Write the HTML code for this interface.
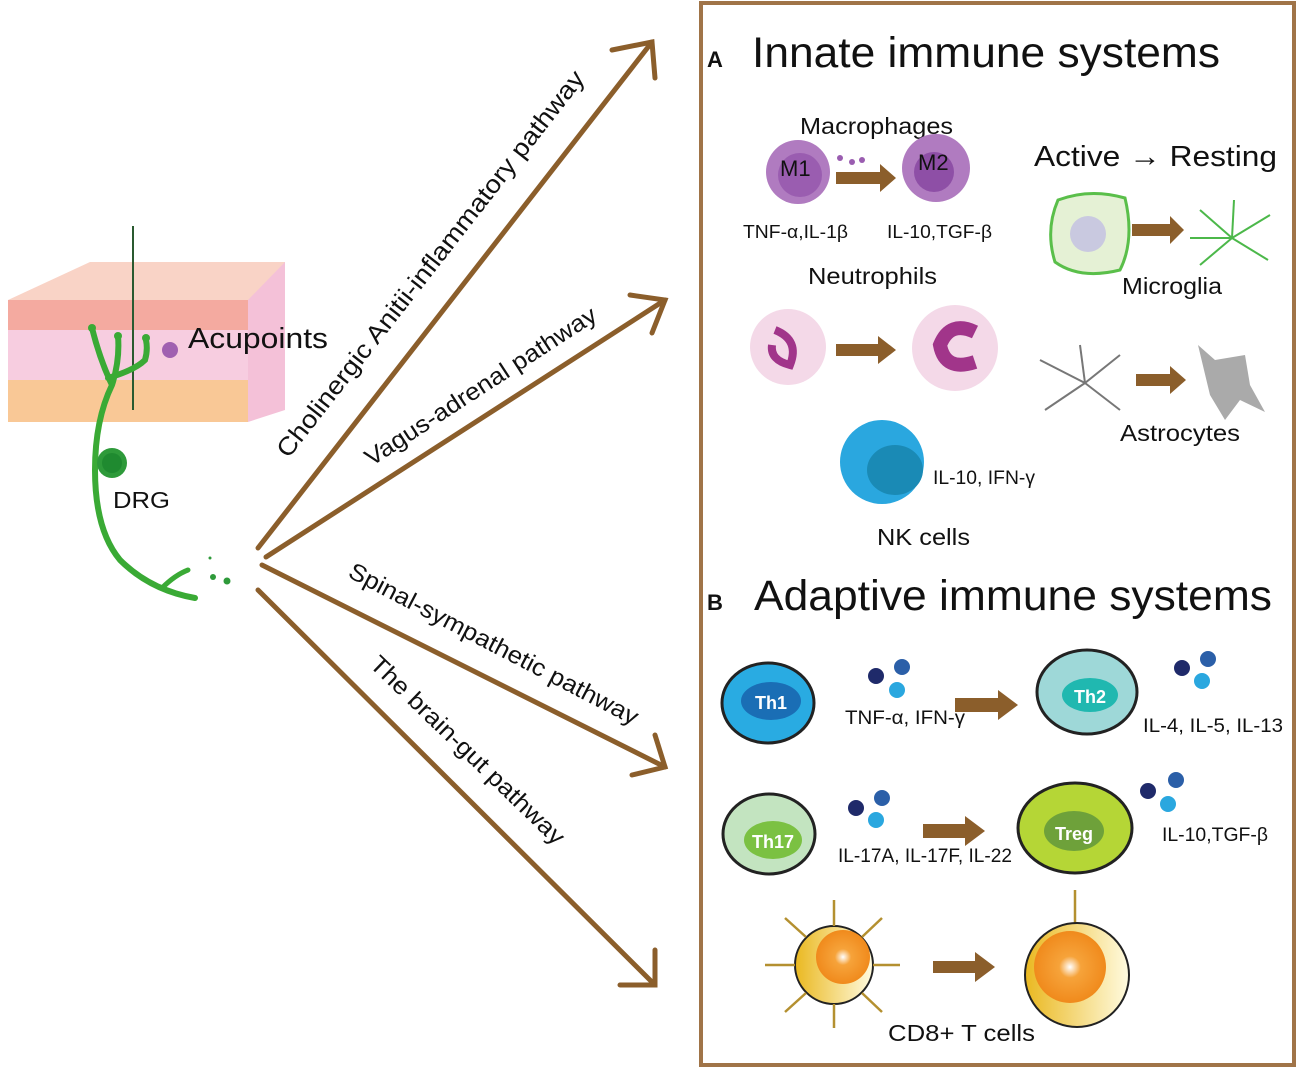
<!DOCTYPE html>
<html><head><meta charset="utf-8"><style>body{margin:0;background:#fff}svg{display:block}text{font-family:"Liberation Sans",sans-serif;fill:#111}</style></head><body>
<svg width="1299" height="1070" viewBox="0 0 1299 1070" xmlns="http://www.w3.org/2000/svg">
<defs>
<radialGradient id="og" cx="0.5" cy="0.5" r="0.5"><stop offset="0" stop-color="#fff"/><stop offset="0.3" stop-color="#f6a33a"/><stop offset="1" stop-color="#f08a1c"/></radialGradient>
<linearGradient id="yg" x1="0" x2="1"><stop offset="0" stop-color="#eab820"/><stop offset="1" stop-color="#fffbe0"/></linearGradient>
</defs>
<!-- skin block -->
<polygon points="8,300 90,262 285,262 285,300" fill="#f9d3c6"/>
<polygon points="248,300 285,262 285,410 248,422" fill="#f4c1d8"/>
<rect x="8" y="300" width="240" height="122" fill="#f7cde0"/>
<rect x="8" y="300" width="240" height="30" fill="#f4aaa0"/>
<rect x="8" y="380" width="240" height="42" fill="#f9c896"/>
<line x1="133" y1="226" x2="133" y2="410" stroke="#2a5a30" stroke-width="2"/>
<path d="M195,598 Q150,590 120,560 Q95,530 95,470 Q95,420 112,385 Q120,360 118,336 M112,385 Q100,360 92,328 M108,378 Q135,370 145,360 Q148,350 146,340" fill="none" stroke="#3aaa35" stroke-width="6" stroke-linecap="round"/>
<path d="M162,588 Q175,575 188,570" fill="none" stroke="#3aaa35" stroke-width="5" stroke-linecap="round"/>
<circle cx="92" cy="328" r="4" fill="#3aaa35"/><circle cx="118" cy="336" r="4" fill="#3aaa35"/><circle cx="146" cy="338" r="4" fill="#3aaa35"/>
<circle cx="112" cy="463" r="15" fill="#2e9a3a"/><circle cx="112" cy="463" r="10" fill="#1f8a30"/>
<circle cx="170" cy="350" r="8" fill="#a060b0"/>
<circle cx="213" cy="577" r="3" fill="#2e9a3a"/><circle cx="227" cy="581" r="3.5" fill="#2e9a3a"/><circle cx="210" cy="558" r="1.5" fill="#2e9a3a"/>
<text x="188" y="348" font-size="29" textLength="140" lengthAdjust="spacingAndGlyphs">Acupoints</text>
<text x="113" y="508" font-size="23" textLength="57" lengthAdjust="spacingAndGlyphs">DRG</text>
<!-- arrows -->
<g stroke="#8b5e2b" stroke-width="5" fill="none" stroke-linecap="round">
<line x1="258" y1="548" x2="652" y2="42"/><polyline points="612,50 652,42 655,78"/>
<line x1="266" y1="557" x2="665" y2="300"/><polyline points="630,295 665,300 652,333"/>
<line x1="262" y1="565" x2="665" y2="767"/><polyline points="655,735 665,767 632,775"/>
<line x1="258" y1="590" x2="655" y2="985"/><polyline points="655,950 655,985 620,985"/>
</g>
<text font-size="25" transform="translate(437,269) rotate(-52)" text-anchor="middle" textLength="483" lengthAdjust="spacingAndGlyphs">Cholinergic Anitii-inflammatory pathway</text>
<text font-size="24" transform="translate(485,393) rotate(-33)" text-anchor="middle" textLength="271" lengthAdjust="spacingAndGlyphs">Vagus-adrenal pathway</text>
<text font-size="24" transform="translate(490,651) rotate(27.5)" text-anchor="middle" textLength="323" lengthAdjust="spacingAndGlyphs">Spinal-sympathetic pathway</text>
<text font-size="24" transform="translate(462,756) rotate(44)" text-anchor="middle" textLength="260" lengthAdjust="spacingAndGlyphs">The brain-gut pathway</text>
<!-- box -->
<rect x="701" y="3" width="593" height="1062" fill="none" stroke="#a07448" stroke-width="4"/>
<text x="707" y="67" font-size="22" font-weight="bold">A</text>
<text x="752" y="67" font-size="43" textLength="468" lengthAdjust="spacingAndGlyphs">Innate immune systems</text>
<text x="707" y="610" font-size="22" font-weight="bold">B</text>
<text x="754" y="610" font-size="43" textLength="518" lengthAdjust="spacingAndGlyphs">Adaptive immune systems</text>
<!-- macrophages -->
<text x="800" y="134" font-size="23" textLength="153" lengthAdjust="spacingAndGlyphs">Macrophages</text>
<circle cx="798" cy="172" r="32" fill="#b07bc0"/><circle cx="800" cy="175" r="22" fill="#9a5db0"/>
<circle cx="936" cy="168" r="34" fill="#b07bc0"/><circle cx="934" cy="172" r="20" fill="#8e4fa6"/>
<text x="780" y="176" font-size="22">M1</text><text x="918" y="170" font-size="22">M2</text>
<circle cx="840" cy="158" r="3" fill="#9a5db0"/><circle cx="852" cy="162" r="3" fill="#9a5db0"/><circle cx="862" cy="160" r="3" fill="#9a5db0"/>
<polygon points="836,172 880,172 880,164 896,178 880,192 880,184 836,184" fill="#8b5e2b"/>
<text x="743" y="238" font-size="18" textLength="105" lengthAdjust="spacingAndGlyphs">TNF-α,IL-1β</text>
<text x="887" y="238" font-size="18" textLength="105" lengthAdjust="spacingAndGlyphs">IL-10,TGF-β</text>
<text x="1034" y="166" font-size="29" textLength="243" lengthAdjust="spacingAndGlyphs">Active → Resting</text>
<path d="M1058,200 Q1090,188 1125,198 Q1135,240 1120,270 Q1080,280 1055,262 Q1045,230 1058,200Z" fill="#e5f1d5" stroke="#5abf4a" stroke-width="3"/>
<circle cx="1088" cy="234" r="18" fill="#c9c9e0"/>
<polygon points="1132,224 1170,224 1170,216 1184,230 1170,244 1170,236 1132,236" fill="#8b5e2b"/>
<g stroke="#4cb84a" stroke-width="2"><line x1="1232" y1="238" x2="1200" y2="210"/><line x1="1232" y1="238" x2="1270" y2="215"/><line x1="1232" y1="238" x2="1200" y2="265"/><line x1="1232" y1="238" x2="1268" y2="260"/><line x1="1232" y1="238" x2="1234" y2="200"/><line x1="1232" y1="238" x2="1190" y2="238"/></g>
<text x="1122" y="294" font-size="23" textLength="100" lengthAdjust="spacingAndGlyphs">Microglia</text>
<text x="808" y="284" font-size="23" textLength="129" lengthAdjust="spacingAndGlyphs">Neutrophils</text>
<circle cx="788" cy="347" r="38" fill="#f4d9e8"/><path d="M775,330 Q800,340 790,365 Q770,360 772,345" fill="none" stroke="#a1358a" stroke-width="8"/>
<polygon points="836,344 878,344 878,336 896,350 878,364 878,356 836,356" fill="#8b5e2b"/>
<circle cx="955" cy="348" r="43" fill="#f4d9e8"/><path d="M975,332 Q950,320 940,345 Q945,372 975,362" fill="none" stroke="#a1358a" stroke-width="14"/>
<g stroke="#777" stroke-width="2"><line x1="1085" y1="383" x2="1040" y2="360"/><line x1="1085" y1="383" x2="1120" y2="355"/><line x1="1085" y1="383" x2="1045" y2="410"/><line x1="1085" y1="383" x2="1120" y2="410"/><line x1="1085" y1="383" x2="1080" y2="345"/></g>
<polygon points="1136,374 1170,374 1170,366 1186,380 1170,394 1170,386 1136,386" fill="#8b5e2b"/>
<path d="M1198,345 L1215,360 L1245,355 L1250,385 L1265,412 L1240,400 L1225,420 L1210,395 Z" fill="#aaa"/>
<text x="1120" y="441" font-size="23" textLength="120" lengthAdjust="spacingAndGlyphs">Astrocytes</text>
<circle cx="882" cy="462" r="42" fill="#2aa7df"/><ellipse cx="895" cy="470" rx="28" ry="25" fill="#1a8ab5"/>
<text x="933" y="484" font-size="19" textLength="102" lengthAdjust="spacingAndGlyphs">IL-10, IFN-γ</text>
<text x="877" y="545" font-size="23" textLength="93" lengthAdjust="spacingAndGlyphs">NK cells</text>
<!-- adaptive -->
<ellipse cx="768" cy="703" rx="46" ry="40" fill="#29abe2" stroke="#222" stroke-width="3"/><ellipse cx="771" cy="701" rx="30" ry="19" fill="#1a6eb5"/>
<text x="771" y="709" font-size="18" font-weight="bold" text-anchor="middle" style="fill:#fff">Th1</text>
<ellipse cx="1087" cy="692" rx="50" ry="42" fill="#9ed8d8" stroke="#222" stroke-width="3"/><ellipse cx="1090" cy="695" rx="28" ry="17" fill="#20b8b0"/>
<text x="1090" y="703" font-size="18" font-weight="bold" text-anchor="middle" style="fill:#fff">Th2</text>
<text x="845" y="724" font-size="19" textLength="120" lengthAdjust="spacingAndGlyphs">TNF-α,  IFN-γ</text>
<text x="1143" y="732" font-size="19" textLength="140" lengthAdjust="spacingAndGlyphs">IL-4,  IL-5, IL-13</text>
<polygon points="955,698 998,698 998,690 1018,705 998,720 998,712 955,712" fill="#8b5e2b"/>
<ellipse cx="769" cy="834" rx="46" ry="40" fill="#c3e4c0" stroke="#222" stroke-width="3"/><ellipse cx="773" cy="840" rx="29" ry="19" fill="#7bc142"/>
<text x="773" y="848" font-size="18" font-weight="bold" text-anchor="middle" style="fill:#fff">Th17</text>
<ellipse cx="1075" cy="828" rx="57" ry="45" fill="#b5d636" stroke="#222" stroke-width="3"/><ellipse cx="1074" cy="831" rx="30" ry="20" fill="#6ea13a"/>
<text x="1074" y="840" font-size="18" font-weight="bold" text-anchor="middle" style="fill:#fff">Treg</text>
<text x="838" y="862" font-size="19" textLength="174" lengthAdjust="spacingAndGlyphs">IL-17A, IL-17F, IL-22</text>
<text x="1162" y="841" font-size="19" textLength="106" lengthAdjust="spacingAndGlyphs">IL-10,TGF-β</text>
<polygon points="923,824 965,824 965,816 985,831 965,846 965,838 923,838" fill="#8b5e2b"/>
<g>
<circle cx="876" cy="676" r="8" fill="#1f2a6a"/><circle cx="902" cy="667" r="8" fill="#2b5fa8"/><circle cx="897" cy="690" r="8" fill="#2aa7df"/>
<circle cx="1182" cy="668" r="8" fill="#1f2a6a"/><circle cx="1208" cy="659" r="8" fill="#2b5fa8"/><circle cx="1202" cy="681" r="8" fill="#2aa7df"/>
<circle cx="856" cy="808" r="8" fill="#1f2a6a"/><circle cx="882" cy="798" r="8" fill="#2b5fa8"/><circle cx="876" cy="820" r="8" fill="#2aa7df"/>
<circle cx="1148" cy="791" r="8" fill="#1f2a6a"/><circle cx="1176" cy="780" r="8" fill="#2b5fa8"/><circle cx="1168" cy="804" r="8" fill="#2aa7df"/>
</g>
<circle cx="834" cy="965" r="39" fill="url(#yg)" stroke="#222" stroke-width="2"/><circle cx="843" cy="957" r="27" fill="url(#og)"/>
<g stroke="#b49030" stroke-width="2.5"><line x1="834" y1="926" x2="834" y2="900"/><line x1="834" y1="1004" x2="834" y2="1028"/><line x1="795" y1="965" x2="765" y2="965"/><line x1="873" y1="965" x2="900" y2="965"/><line x1="806" y1="937" x2="785" y2="918"/><line x1="862" y1="937" x2="882" y2="918"/><line x1="806" y1="993" x2="785" y2="1012"/><line x1="862" y1="993" x2="882" y2="1012"/><line x1="1075" y1="925" x2="1075" y2="890"/></g>
<polygon points="933,961 975,961 975,952 995,967 975,982 975,973 933,973" fill="#8b5e2b"/>
<ellipse cx="1077" cy="975" rx="52" ry="52" fill="url(#yg)" stroke="#222" stroke-width="2"/><circle cx="1070" cy="967" r="36" fill="url(#og)"/>
<text x="888" y="1041" font-size="23" textLength="147" lengthAdjust="spacingAndGlyphs">CD8+ T cells</text>
</svg>
</body></html>
